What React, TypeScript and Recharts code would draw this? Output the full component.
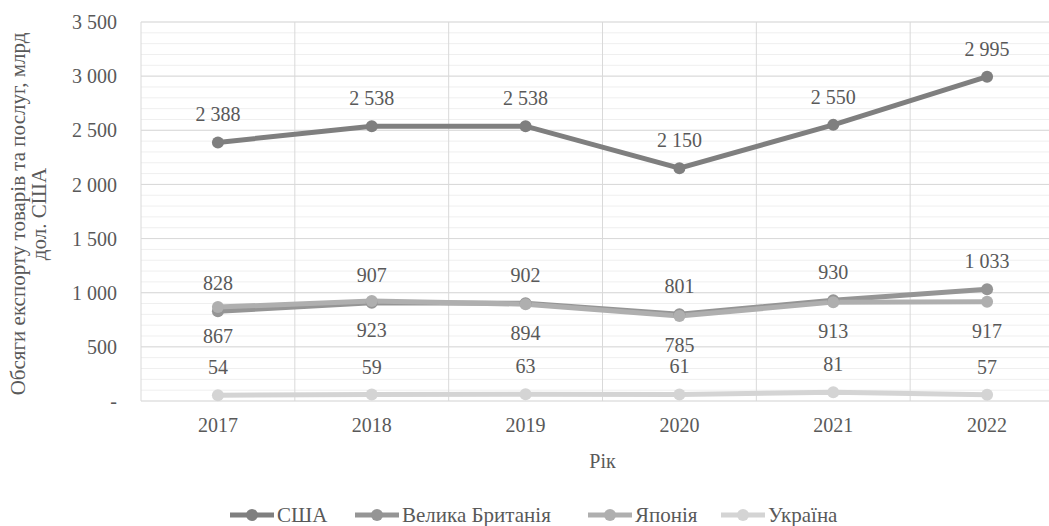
import { LineChart, Line, XAxis, YAxis, CartesianGrid, LabelList, Label } from 'recharts';

const years = ['2017', '2018', '2019', '2020', '2021', '2022'];
const usa = [2388, 2538, 2538, 2150, 2550, 2995];
const uk = [828, 907, 902, 801, 930, 1033];
const japan = [867, 923, 894, 785, 913, 917];
const ukraine = [54, 59, 63, 61, 81, 57];

const yTicks = [0, 500, 1000, 1500, 2000, 2500, 3000, 3500];
const yMax = yTicks[yTicks.length - 1];
const minorTicks = Array.from({ length: 36 }, (_, i) => i * 100);

const series = [
    { key: 'usa', name: 'США', color: '#7f7f7f', labelDy: -21, legendX: 230 },
    { key: 'uk', name: 'Велика Британія', color: '#959595', labelDy: -21, legendX: 355 },
    { key: 'japan', name: 'Японія', color: '#afafaf', labelDy: 36, legendX: 588 },
    { key: 'ukraine', name: 'Україна', color: '#d4d4d4', labelDy: -21, legendX: 721 },
];

const data = years.map((year, i) => ({
    year,
    usa: usa[i],
    uk: uk[i],
    japan: japan[i],
    ukraine: ukraine[i],
}));

const FONT = 'Liberation Serif, Times New Roman, serif';
const TEXT = '#595959';

const fmt = (v: number) => (v === 0 ? '-' : String(v).replace(/\B(?=(\d{3})+(?!\d))/g, ' '));

const makeLabel = (dy: number) => (props: any) => {
    const { x, y, value } = props;
    return (
        <text x={x} y={y + dy} textAnchor="middle" fill={TEXT} fontSize={20} style={{ fontFamily: FONT }}>
            {fmt(value)}
        </text>
    );
};

const YTitle = () => {
    const cy = 214;
    return (
        <text transform={`rotate(-90, 26, ${cy})`} textAnchor="middle" fill={TEXT} fontSize={21} style={{ fontFamily: FONT }}>
            <tspan x={26} y={cy - 1}>Обсяги експорту товарів та послуг, млрд</tspan>
            <tspan x={26} y={cy + 20}>дол. США</tspan>
        </text>
    );
};

// vertical lines sit on the category boundaries, not on the points
const bandLines = ({ offset }: any) =>
    Array.from({ length: years.length + 1 }, (_, i) => offset.left + (i * offset.width) / years.length);

// minor horizontal lines every 100
const minorLines = ({ offset }: any) =>
    minorTicks.map((t) => offset.top + offset.height * (1 - t / yMax));

function LegendIcon({ color }: { color: string }) {
    return (
        <svg width={44} height={14}>
            <line x1={0} y1={7} x2={44} y2={7} stroke={color} strokeWidth={5} />
            <circle cx={22} cy={7} r={6} fill={color} />
        </svg>
    );
}

export default function App() {
    const tickStyle = { fill: TEXT, fontSize: 20, style: { fontFamily: FONT } };
    return (
        <div style={{ position: 'absolute', left: 0, top: 0, width: 1049, height: 526, overflow: 'hidden', background: '#fff', fontFamily: FONT }}>
            <LineChart
                width={1064}
                height={526}
                data={data}
                margin={{ top: 22, right: 0, left: 0, bottom: 55 }}
                style={{ fontFamily: FONT }}
            >
                <CartesianGrid vertical={false} stroke="#efefef" horizontalCoordinatesGenerator={minorLines} />
                <CartesianGrid stroke="#d9d9d9" verticalCoordinatesGenerator={bandLines} />
                <XAxis
                    dataKey="year"
                    scale="band"
                    height={70}
                    axisLine={false}
                    tickLine={false}
                    tickSize={0}
                    tickMargin={17}
                    tick={tickStyle}
                >
                    <Label value="Рік" position="insideBottom" offset={3} fill={TEXT} fontSize={20} style={{ fontFamily: FONT }} />
                </XAxis>
                <YAxis
                    width={141}
                    domain={[0, yMax]}
                    ticks={yTicks}
                    tickFormatter={fmt}
                    axisLine={false}
                    tickLine={false}
                    tickSize={0}
                    tickMargin={24}
                    tick={tickStyle}
                    label={<YTitle />}
                />
                {series.map((s) => (
                    <Line
                        key={s.key}
                        dataKey={s.key}
                        name={s.name}
                        stroke={s.color}
                        strokeWidth={5}
                        dot={{ r: 6, fill: s.color, stroke: s.color, strokeWidth: 0 }}
                        activeDot={false}
                        isAnimationActive={false}
                    >
                        <LabelList dataKey={s.key} content={makeLabel(s.labelDy)} />
                    </Line>
                ))}
            </LineChart>
            {series.map((s) => (
                <div
                    key={s.key}
                    style={{
                        position: 'absolute',
                        top: 504,
                        left: s.legendX,
                        display: 'flex',
                        alignItems: 'center',
                        fontSize: 21,
                        color: TEXT,
                        lineHeight: '22px',
                        whiteSpace: 'nowrap',
                    }}
                >
                    <LegendIcon color={s.color} />
                    <span style={{ marginLeft: 3 }}>{s.name}</span>
                </div>
            ))}
        </div>
    );
}
